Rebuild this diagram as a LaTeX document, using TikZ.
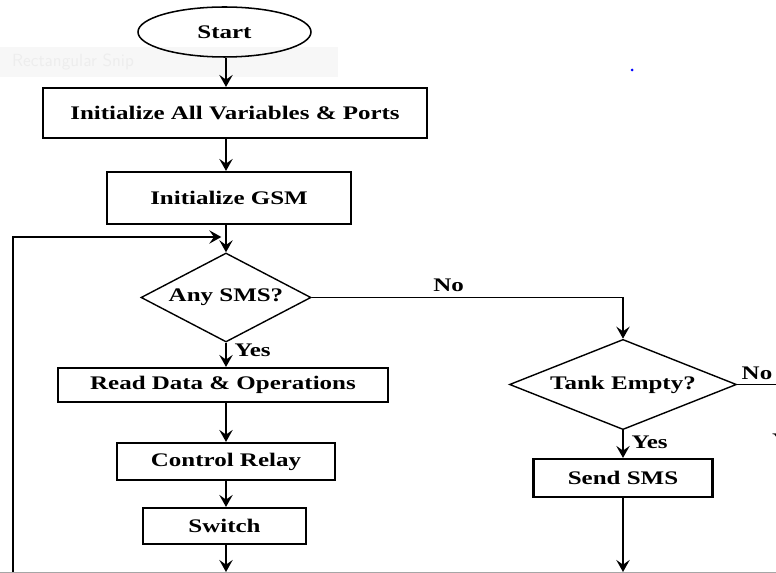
\documentclass[tikz,border=0pt]{standalone}
\usepackage{fontspec}
\setmainfont{Liberation Serif}[FakeStretch=1.3]
\usetikzlibrary{shapes.geometric,arrows.meta}

\begin{document}
\begin{tikzpicture}[x=0.03cm,y=-0.03cm,
    every node/.style={font=\fontsize{16.4}{19}\selectfont\bfseries},
    box/.style={draw,line width=1.8pt,inner sep=0pt},
    decision/.style={draw,diamond,line width=1.2pt,inner sep=0pt,aspect=2},
    flow/.style={line width=2pt,-{Stealth[length=3.6mm,width=4mm,inset=1.4mm]}}]
    \useasboundingbox (0,0) rectangle (776,573);
    % faint snip banner and stray dot
    \fill[black!3] (0,47) rectangle (338,77);
    \node[font=\sffamily\fontsize{15}{18}\selectfont,text=black!7,anchor=west] (snip) at (8,62) {Rectangular Snip};
    \fill[blue] (632,70) circle (1.5);
    \coordinate (col) at (226,0);
    % main column
    \node[box,ellipse,line width=1.3pt,minimum width=5.19cm,minimum height=1.5cm] (start) at (224.5,32) {Start};
    \node[box,minimum width=11.52cm,minimum height=1.5cm] (init) at (235,113) {Initialize All Variables \& Ports};
    \node[box,minimum width=7.32cm,minimum height=1.56cm] (gsm) at (229,198) {Initialize GSM};
    \node[decision,minimum width=5.1cm,minimum height=2.67cm] (anysms) at (226,297.5) {Any SMS?};
    \node[box,minimum width=9.9cm,minimum height=1.02cm] (read) at (223,385) {Read Data \& Operations};
    \node[box,minimum width=6.54cm,minimum height=1.11cm] (relay) at (226,461.5) {Control Relay};
    \node[box,minimum width=4.89cm,minimum height=1.08cm] (switch) at (224.5,526) {Switch};
    % right branch
    \node[decision,minimum width=6.81cm,minimum height=2.49cm] (tank) at (623,384.5) {Tank Empty?};
    \node[box,minimum width=5.37cm,minimum height=1.14cm] (sendsms) at (623,478) {Send SMS};
    \coordinate (merge) at (226,237);
    \coordinate (loopbot) at (13,580);
    \coordinate (loopend) at (226,572);
    \coordinate (sendend) at (623,572);
    \coordinate (tankout) at (790,384.5);
    \draw[flow] (start.south -| col) -- (init.north -| col);
    \draw[flow] (init.south -| col) -- (gsm.north -| col);
    \draw[flow] (gsm.south -| col) -- (anysms.north);
    \draw[flow] (anysms.south) -- (read.north -| col) node[pos=0.3,right=3pt] (yesa) {Yes};
    \draw[flow] (read.south -| col) -- (relay.north -| col);
    \draw[flow] (relay.south -| col) -- (switch.north -| col);
    \draw[flow] (switch.south -| col) -- (loopend);
    \draw[flow,line width=1.7pt] (loopbot) |- ([xshift=-4]merge);
    \draw[line width=1.4pt] (anysms.east) -- (anysms.east -| tank.north) node[pos=0.44,above=1pt] (noa) {No};
    \draw[flow] (anysms.east -| tank.north) -- (tank.north);
    \draw[line width=1.4pt] (tank.east) -- (tankout);
    \node (nob) at (757,373) {No};
    \node[anchor=west] (yesc) at (768,440) {Yes};
    \draw[flow] (tank.south) -- (sendsms.north) node[pos=0.45,right=3pt] (yesb) {Yes};
    \draw[flow] (sendsms.south) -- (sendend);
    \draw[black!35,line width=0.6pt] (0,572) -- (776,572);
\end{tikzpicture}
\end{document}
